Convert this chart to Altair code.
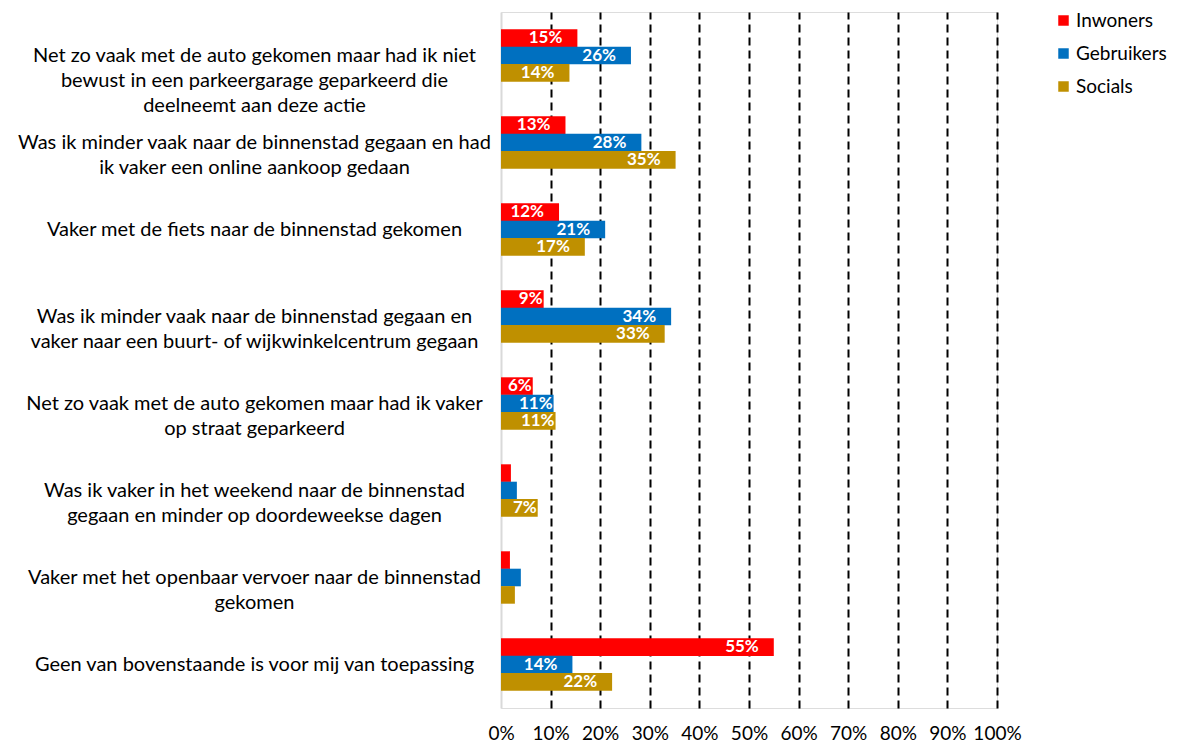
import altair as alt
import pandas as pd

categories = [
    "Net zo vaak met de auto gekomen maar had ik niet\nbewust in een parkeergarage geparkeerd die\ndeelneemt aan deze actie",
    "Was ik minder vaak naar de binnenstad gegaan en had\nik vaker een online aankoop gedaan",
    "Vaker met de fiets naar de binnenstad gekomen",
    "Was ik minder vaak naar de binnenstad gegaan en\nvaker naar een buurt- of wijkwinkelcentrum gegaan",
    "Net zo vaak met de auto gekomen maar had ik vaker\nop straat geparkeerd",
    "Was ik vaker in het weekend naar de binnenstad\ngegaan en minder op doordeweekse dagen",
    "Vaker met het openbaar vervoer naar de binnenstad\ngekomen",
    "Geen van bovenstaande is voor mij van toepassing",
]
groups = ["Inwoners", "Gebruikers", "Socials"]
inwoners = [0.154, 0.130, 0.117, 0.086, 0.064, 0.020, 0.018, 0.550]
gebruikers = [0.262, 0.283, 0.210, 0.343, 0.106, 0.032, 0.040, 0.144]
socials = [0.138, 0.352, 0.169, 0.330, 0.110, 0.074, 0.028, 0.224]
colors = ["#FF0000", "#0070C0", "#BF9000"]
tick_values = [0.0, 0.1, 0.2, 0.3, 0.4, 0.5, 0.6, 0.7, 0.8, 0.9, 1.0]

rows = []
for name, vals in zip(groups, [inwoners, gebruikers, socials]):
    for cat, v in zip(categories, vals):
        rows.append({"Categorie": cat, "Groep": name, "Waarde": v})
df = pd.DataFrame(rows)

FONT = "Lato"

y_enc = alt.Y(
    "Categorie:N",
    sort=categories,
    scale=alt.Scale(paddingInner=0.4, paddingOuter=0.2),
    axis=alt.Axis(
        title=None,
        labelExpr="split(datum.label, '\\n')",
        labelAlign="center",
        labelPadding=247,
        labelFontSize=20,
        labelFont=FONT,
        labelLineHeight=25,
        labelColor="black",
        labelLimit=0,
        ticks=False,
        domain=False,
        grid=False,
    ),
)
yoff_enc = alt.YOffset("Groep:N", sort=groups, scale=alt.Scale(paddingInner=0, paddingOuter=0))
x_enc = alt.X(
    "Waarde:Q",
    scale=alt.Scale(domain=[0, 1], nice=False),
    axis=alt.Axis(
        title=None,
        format=".0%",
        values=tick_values,
        labelFontSize=19,
        labelFont=FONT,
        labelColor="black",
        labelPadding=16,
        labelOverlap=False,
        labelFlush=False,
        ticks=False,
        domain=False,
        grid=True,
        gridColor={"condition": {"test": "datum.value === 0", "value": "#d9d9d9"}, "value": "black"},
        gridDash={"condition": {"test": "datum.value === 0", "value": []}, "value": [8, 5]},
        gridWidth=2,
        gridOpacity=1,
    ),
)

bars = alt.Chart(df).mark_bar(size=17.6).encode(
    y=y_enc,
    yOffset=yoff_enc,
    x=x_enc,
    color=alt.Color(
        "Groep:N",
        sort=groups,
        scale=alt.Scale(domain=groups, range=colors),
        legend=alt.Legend(
            title=None,
            orient="none",
            legendX=553,
            legendY=-1,
            symbolType="square",
            symbolSize=110,
            symbolStrokeWidth=0,
            labelFontSize=19,
            labelFont=FONT,
            labelColor="black",
            rowPadding=13,
            labelOffset=3,
        ),
    ),
)

def label_layer(test, dx):
    return alt.Chart(df).transform_filter(test).mark_text(
        align="right", baseline="middle", dx=dx, color="white",
        fontWeight="bold", fontSize=17, font=FONT,
    ).encode(
        y=alt.Y("Categorie:N", sort=categories),
        yOffset=alt.YOffset("Groep:N", sort=groups),
        x=alt.X("Waarde:Q"),
        text=alt.Text("Waarde:Q", format=".0%"),
    )

labels_small = label_layer("datum.Waarde >= 0.05 && datum.Waarde < 0.115", -1)
labels_large = label_layer("datum.Waarde >= 0.115", -15)

chart = alt.layer(bars, labels_small, labels_large).properties(
    width=496,
    height=696,
    autosize=alt.AutoSizeParams(type="none"),
    padding={"left": 493, "top": 4, "right": 173, "bottom": 38},
).configure_view(stroke=None).configure(background="white")

chart.save("out.html", embed_options={"renderer": "svg", "actions": False})
